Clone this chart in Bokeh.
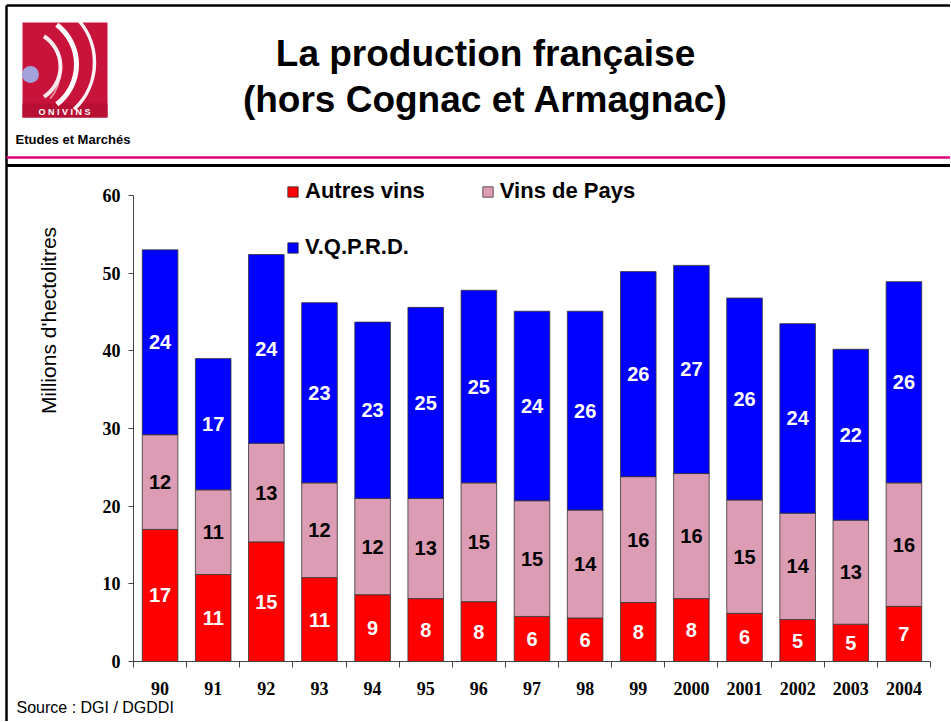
import math
from bokeh.plotting import figure
from bokeh.models import (ColumnDataSource, Range1d, FixedTicker, Legend, LegendItem,
                          LinearAxis)
from bokeh.embed import file_html
from bokeh.resources import INLINE
from bokeh.core.properties import value

# ---------------- data ----------------
years = ["90", "91", "92", "93", "94", "95", "96", "97", "98", "99",
         "2000", "2001", "2002", "2003", "2004"]
autres_vins = [17.0, 11.2, 15.4, 10.8, 8.6, 8.1, 7.7, 5.8, 5.6, 7.6, 8.1, 6.2, 5.4, 4.8, 7.1]
vins_de_pays = [12.2, 10.9, 12.7, 12.2, 12.4, 12.9, 15.3, 14.9, 13.9, 16.2, 16.1, 14.6, 13.7, 13.4, 15.9]
vqprd = [23.8, 16.9, 24.3, 23.2, 22.7, 24.6, 24.8, 24.4, 25.6, 26.4, 26.8, 26.0, 24.4, 22.0, 25.9]
y_ticks = [0, 10, 20, 30, 40, 50, 60]

series_names = ["Autres vins", "Vins de Pays", "V.Q.P.R.D."]
colors = ["#FF0000", "#DC9CB4", "#0000FF"]
label_colors = ["white", "black", "white"]

FONT = "Liberation Sans"
SERIF = "Liberation Serif"

# ---------------- layout constants (page pixels) ----------------
PW, PH = 950, 721
AX_L, AX_R = 133, 930      # x axis extent
AX_B, AX_T = 661, 195      # y axis: value 0 and value 60
n = len(years)
YMAX = 60
ppx = (AX_R - AX_L) / n
ppy = (AX_B - AX_T) / YMAX

x_range = Range1d(-AX_L / ppx, n + (PW - AX_R) / ppx)
y_range = Range1d(-(PH - AX_B) / ppy, YMAX + AX_T / ppy)

p = figure(width=PW, height=PH, x_range=x_range, y_range=y_range,
           toolbar_location=None, output_backend="svg",
           x_axis_type=None, y_axis_type=None, min_border=0)
p.grid.visible = False
p.outline_line_color = None
p.extra_x_ranges = {"px": Range1d(0, PW)}
p.extra_y_ranges = {"py": Range1d(PH, 0)}
PX = dict(x_range_name="px", y_range_name="py")

# ---------------- slide frame & header ----------------
p.segment(x0=[6, 6], y0=[5, 5], x1=[PW, 6], y1=[5, PH], line_color="black", line_width=2.5, **PX)
p.segment(x0=[6], y0=[157], x1=[PW], y1=[157], line_color="#E0007A", line_width=2.5, **PX)
p.segment(x0=[6], y0=[165], x1=[PW], y1=[165], line_color="black", line_width=3, **PX)

# logo
p.quad(left=[22], right=[107], top=[22], bottom=[117], fill_color="#C8133A", line_color=None, **PX)
p.quad(left=[22], right=[107], top=[103], bottom=[117], fill_color="#B80F35", line_color=None, **PX)
p.circle(x=[30], y=[74], radius=8.5, fill_color="#A3A3DC", line_color=None, **PX)
p.arc(x=[24, 26, 30, 16], y=[66, 64, 62, 70], radius=[36, 50, 64, 44],
      start_angle=[-1.0, -0.92, -0.82, -0.7], end_angle=[1.0, 0.92, 0.82, 0.7],
      line_color="white", line_width=[4, 5, 3.5, 1.5], line_alpha=[0.9, 1, 0.95, 0.6], **PX)
p.text(x=[64], y=[111], text=["O N I V I N S"], text_color="white",
       text_font=value(FONT), text_font_style="bold", text_font_size="9px",
       text_align="center", text_baseline="middle", **PX)

# title
p.text(x=[485, 485], y=[53, 99],
       text=["La production française", "(hors Cognac et Armagnac)"],
       text_font=value(FONT), text_font_style="bold", text_font_size="37px",
       text_color="black", text_align="center", text_baseline="middle", **PX)
p.text(x=[15], y=[139], text=["Etudes et Marchés"], text_font=value(FONT),
       text_font_style="bold", text_font_size="13px", text_color="black",
       text_align="left", text_baseline="middle", **PX)
p.text(x=[16], y=[707], text=["Source : DGI / DGDDI"], text_font=value(FONT),
       text_font_size="16px", text_color="black", text_align="left",
       text_baseline="middle", **PX)
# y axis title
p.text(x=[48], y=[320], text=["Millions d'hectolitres"], text_font=value(FONT),
       text_font_size="21px", text_color="black", text_align="center",
       text_baseline="middle", angle=math.pi / 2, **PX)

# ---------------- bars ----------------
xc = [i + 0.5 for i in range(n)]
b1 = autres_vins
b2 = [a + b for a, b in zip(autres_vins, vins_de_pays)]
src = ColumnDataSource(dict(
    x=xc, year=years,
    a=autres_vins, p=vins_de_pays, v=vqprd,
    ya=[a / 2 for a in autres_vins],
    yp=[a + q / 2 for a, q in zip(b1, vins_de_pays)],
    yv=[s + v / 2 for s, v in zip(b2, vqprd)],
    ta=[str(int(v + 0.5)) for v in autres_vins],
    tp=[str(int(v + 0.5)) for v in vins_de_pays],
    tv=[str(int(v + 0.5)) for v in vqprd],
))

rs = p.vbar_stack(["a", "p", "v"], x="x", width=0.67, source=src, fill_color=colors,
                  line_color="#333333", line_width=0.8)

for ycol, tcol, tc in zip(["ya", "yp", "yv"], ["ta", "tp", "tv"], label_colors):
    p.text(x="x", y=ycol, text=tcol, source=src, text_color=tc,
           text_font=value(FONT), text_font_style="bold", text_font_size="20px",
           text_align="center", text_baseline="middle")

# ---------------- axes ----------------
ya = LinearAxis(ticker=FixedTicker(ticks=y_ticks), fixed_location=0, bounds=(0, YMAX))
ya.major_label_text_font = SERIF
ya.major_label_text_font_style = "bold"
ya.major_label_text_font_size = "18px"
ya.major_label_text_color = "black"
ya.major_label_standoff = 8
ya.major_tick_in = 0
ya.major_tick_out = 5
ya.minor_tick_line_color = None
ya.axis_line_color = "#444444"
ya.major_tick_line_color = "#444444"
p.add_layout(ya, "left")

xa = LinearAxis(ticker=FixedTicker(ticks=xc, minor_ticks=list(range(n + 1))),
                fixed_location=0, bounds=(0, n))
xa.major_label_overrides = {x: y for x, y in zip(xc, years)}
xa.major_tick_line_color = None
xa.major_tick_in = 0
xa.major_tick_out = 0
xa.minor_tick_in = 0
xa.minor_tick_out = 6
xa.minor_tick_line_color = "#444444"
xa.axis_line_color = "#444444"
xa.major_label_text_font = SERIF
xa.major_label_text_font_style = "bold"
xa.major_label_text_font_size = "18px"
xa.major_label_text_color = "black"
xa.major_label_standoff = 14
p.add_layout(xa, "below")

# ---------------- legends ----------------
def make_legend(items, loc):
    return Legend(items=items, orientation="horizontal", location=loc,
                  label_text_font=FONT, label_text_font_style="bold",
                  label_text_font_size="22px", label_text_color="black",
                  glyph_width=13, glyph_height=13,
                  label_standoff=6, spacing=56, padding=0, margin=0,
                  border_line_color=None, background_fill_alpha=0)

legA = make_legend([LegendItem(label=series_names[0], renderers=[rs[0]]),
                    LegendItem(label=series_names[1], renderers=[rs[1]])], (286, PH - 204))
legB = make_legend([LegendItem(label=series_names[2], renderers=[rs[2]])], (286, PH - 260))
p.add_layout(legA)
p.add_layout(legB)

open("out.html", "w").write(file_html(p, INLINE))
